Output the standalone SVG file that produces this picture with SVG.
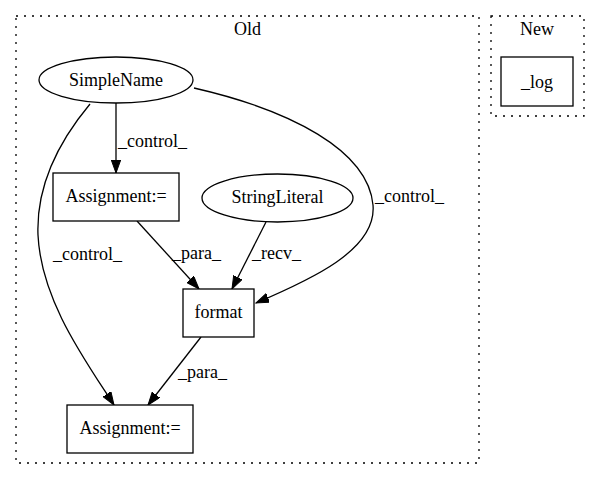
<svg xmlns="http://www.w3.org/2000/svg" width="600" height="480" viewBox="0 0 600 480">
<defs>
<marker id="arr" markerUnits="userSpaceOnUse" markerWidth="14" markerHeight="10" refX="13" refY="4.7" orient="auto">
<path d="M0,0 L13,4.7 L0,9.4 z" fill="#000" stroke="#000" stroke-width="1"/>
</marker>
</defs>
<style>
text{font-family:Liberation Serif,Tinos,Times New Roman,DejaVu Serif,serif;font-size:18px;fill:#000}
.c{text-anchor:middle}
.n{fill:#fff;stroke:#000;stroke-width:1.3}
.cl{fill:none;stroke:#000;stroke-width:1.3;stroke-dasharray:2,6}
.e{fill:none;stroke:#000;stroke-width:1.3;marker-end:url(#arr)}
</style>
<rect width="600" height="480" fill="#fff"/>
<g id="cluster_old">
<rect class="cl" x="16" y="16" width="463" height="447"/>
<text class="c" x="247.5" y="35">Old</text>
</g>
<g id="cluster_new">
<rect class="cl" x="491" y="16" width="93" height="100"/>
<text class="c" x="537" y="35">New</text>
</g>
<g id="edges">
<path class="e" d="M116,103 L116,173"/>
<text x="118" y="147">_control_</text>
<path class="e" d="M90,104 C60,140 36,185 38,235 C41,300 85,360 114,405"/>
<text x="53" y="260">_control_</text>
<path class="e" d="M194,88 C290,110 368,150 373,205 C377,250 310,280 256,303"/>
<text x="375" y="202">_control_</text>
<path class="e" d="M137,221 L199,289"/>
<text x="172" y="259">_para_</text>
<path class="e" d="M266,222 L232,289"/>
<text x="252" y="259">_recv_</text>
<path class="e" d="M201,337 L148,405"/>
<text x="178" y="378">_para_</text>
</g>
<g id="SimpleName">
<ellipse class="n" cx="116" cy="80" rx="77" ry="23"/>
<text class="c" x="116" y="86">SimpleName</text>
</g>
<g id="Assignment1">
<rect class="n" x="53" y="173" width="126" height="48"/>
<text class="c" x="116" y="202">Assignment:=</text>
</g>
<g id="StringLiteral">
<ellipse class="n" cx="277.5" cy="198" rx="75.5" ry="24"/>
<text class="c" x="277.5" y="203">StringLiteral</text>
</g>
<g id="format">
<rect class="n" x="183" y="289" width="71" height="48"/>
<text class="c" x="218.5" y="318">format</text>
</g>
<g id="Assignment2">
<rect class="n" x="67" y="405" width="126" height="48"/>
<text class="c" x="130" y="434">Assignment:=</text>
</g>
<g id="log">
<rect class="n" x="501" y="57" width="72" height="49"/>
<text class="c" x="537" y="88">_log</text>
</g>
</svg>
